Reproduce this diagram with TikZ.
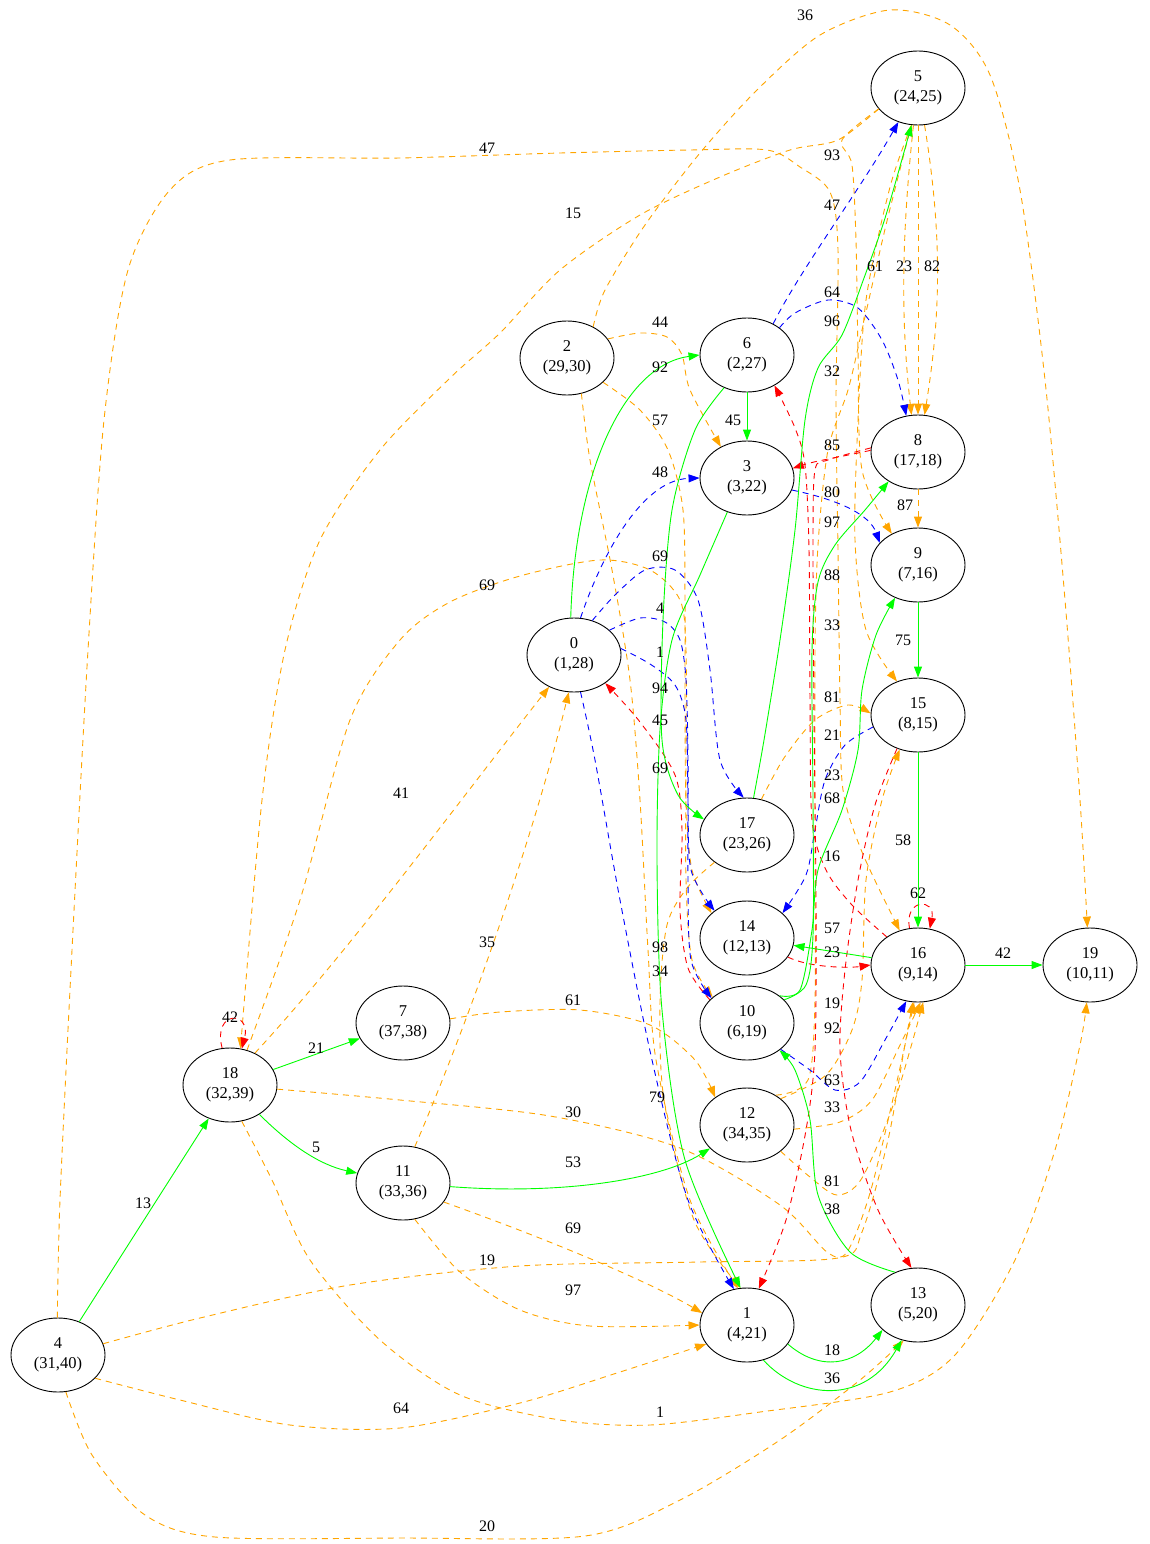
\documentclass[tikz,border=0pt]{standalone}
\usepackage{fontspec}
\setmainfont{Liberation Serif}
\usetikzlibrary{shapes.geometric,arrows.meta}
\definecolor{gvorange}{HTML}{FFA500}
\definecolor{gvgreen}{HTML}{00FF00}
\definecolor{gvblue}{HTML}{0000FF}
\definecolor{gvred}{HTML}{FF0000}
\begin{document}
\begin{tikzpicture}[x=1pt,y=-1pt,
  vertex/.style={ellipse,draw=black,fill=white,line width=0.9pt,minimum width=94pt,minimum height=74pt,
    inner sep=0pt,align=center,font=\fontsize{16.5}{20}\selectfont},
  wt/.style={font=\fontsize{16}{18}\selectfont,inner sep=0pt},
  conn/.style={line width=0.9pt,-{Triangle[length=11pt,width=8pt]}},
  tree/.style={conn,draw=gvgreen},
  fwd/.style={conn,draw=gvblue,dash pattern=on 6pt off 5pt},
  back/.style={conn,draw=gvred,dash pattern=on 6pt off 5pt},
  cross/.style={conn,draw=gvorange,dash pattern=on 6pt off 5pt}]
\useasboundingbox (0,0) rectangle (1150,1544);

% vertices: name, (discovery,finish)
\node[vertex] (n5)  at (918,88)   {5\\(24,25)};
\node[vertex] (n2)  at (567,358)  {2\\(29,30)};
\node[vertex] (n6)  at (747,355)  {6\\(2,27)};
\node[vertex] (n8)  at (918,452)  {8\\(17,18)};
\node[vertex] (n3)  at (747,478)  {3\\(3,22)};
\node[vertex] (n9)  at (918,565)  {9\\(7,16)};
\node[vertex] (n0)  at (574,655)  {0\\(1,28)};
\node[vertex] (n15) at (918,715)  {15\\(8,15)};
\node[vertex] (n17) at (747,835)  {17\\(23,26)};
\node[vertex] (n14) at (747,938)  {14\\(12,13)};
\node[vertex] (n16) at (918,965)  {16\\(9,14)};
\node[vertex] (n19) at (1090,965) {19\\(10,11)};
\node[vertex] (n10) at (747,1023) {10\\(6,19)};
\node[vertex] (n7)  at (403,1023) {7\\(37,38)};
\node[vertex] (n18) at (230,1085) {18\\(32,39)};
\node[vertex] (n12) at (747,1125) {12\\(34,35)};
\node[vertex] (n11) at (403,1183) {11\\(33,36)};
\node[vertex] (n13) at (918,1305) {13\\(5,20)};
\node[vertex] (n1)  at (747,1325) {1\\(4,21)};
\node[vertex] (n4)  at (58,1355)  {4\\(31,40)};

% cross edges
\draw[cross] plot[smooth] coordinates {(n2.50) (605,290) (645,225) (700,153) (757,90) (820,35) (890,10) (950,25) (990,75) (1020,190) (1045,380) (1065,600) (1080,800) (n19.94)};
\draw[cross] plot[smooth] coordinates {(n2.25) (640,333) (667,337) (682,355) (690,390) (n3.130)};
\draw[cross] plot[smooth] coordinates {(n2.-34) (640,410) (668,450) (683,510) (685,600) (685,700) (686,800) (692,870) (n14.145)};
\draw[cross] plot[smooth] coordinates {(n2.-68) (590,460) (612,570) (630,680) (640,800) (648,950) (656,1060) (690,1200) (n1.104)};
\draw[cross] plot[smooth] coordinates {(n17.-140) (687,888) (667,925) (660,1000) (664,1100) (694,1220) (n1.100)};
\draw[cross] plot[smooth] coordinates {(n17.68) (784,758) (815,720) (848,705) (n15.178)};
\draw[cross] plot[smooth] coordinates {(n7.5) (500,1012) (580,1010) (650,1025) (695,1060) (n12.139)};
\draw[cross] (n18.52) .. controls (350,950) and (460,800) .. (n0.-128);
\draw[cross] (n11.72) .. controls (465,1030) and (530,850) .. (n0.-98);
\draw[cross] plot[smooth] coordinates {(n18.-72) (272,1180) (310,1260) (380,1340) (460,1395) (560,1420) (650,1425) (760,1412) (890,1392) (955,1355) (1015,1260) (1055,1150) (1080,1045) (n19.-95)};
\draw[cross] plot[smooth] coordinates {(n4.-32) (180,1400) (290,1425) (400,1428) (520,1403) (620,1372) (n1.-155)};
\draw[cross] plot[smooth] coordinates {(n4.-78) (92,1455) (145,1515) (215,1537) (400,1538) (585,1536) (680,1500) (780,1440) (860,1380) (n13.-112)};
\draw[cross] plot[smooth] coordinates {(n4.14) (200,1318) (350,1285) (520,1266) (700,1262) (838,1258) (862,1232) (888,1140) (904,1050) (n16.-98)};
\draw[cross] (n11.-25) .. controls (550,1240) and (650,1282) .. (n1.165);
\draw[cross] plot[smooth] coordinates {(n11.-72) (460,1272) (520,1310) (590,1326) (n1.180)};
\draw[cross] plot[smooth] coordinates {(n18.-5) (400,1100) (550,1116) (680,1148) (780,1205) (827,1252) (847,1252) (870,1193) (895,1090) (n16.-96)};
\draw[cross] plot[smooth] coordinates {(n12.-5) (840,1122) (872,1100) (900,1045) (n16.-86)};
\draw[cross] plot[smooth] coordinates {(n12.-38) (810,1177) (837,1195) (862,1178) (895,1100) (n16.-82)};
\draw[cross] plot[smooth] coordinates {(n12.38) (826,1075) (852,1030) (862,980) (866,880) (882,800) (n15.-118)};
\draw[cross] plot[smooth] coordinates {(n12.46) (808,1080) (815,1000) (815,850) (815,650) (818,545) (828,450) (848,390) (862,330) (886,225) (n5.-100)};
\draw[cross] plot[smooth] coordinates {(n18.64) (300,900) (350,720) (400,640) (450,602) (520,576) (600,560) (650,570) (680,600) (686,650) (686,760) (686,880) (692,960) (n10.143)};
\draw[cross] plot[smooth] coordinates {(n5.-152) (838,140) (790,150) (720,177) (640,215) (560,270) (500,333) (450,378) (380,450) (320,540) (285,650) (262,800) (n18.74)};
\draw[cross] plot[smooth] coordinates {(n5.-152) (842,140) (852,165) (856,240) (858,350) (862,470) (n9.130)};
\draw[cross] plot[smooth] coordinates {(n5.-100) (890,187) (866,300) (858,420) (855,540) (866,630) (n15.122)};
\draw[cross] plot[smooth] coordinates {(n4.91) (60,1200) (72,950) (88,650) (104,420) (128,270) (170,190) (230,160) (400,158) (560,153) (690,150) (767,150) (800,167) (830,192) (838,250) (836,400) (838,550) (840,700) (843,790) (862,852) (n16.118)};
\draw[cross] (n5.-97) .. controls (900,250) and (902,330) .. (n8.100);
\draw[cross] (n5.-90) -- (n8.90);
\draw[cross] (n5.-80) .. controls (945,250) and (938,330) .. (n8.80);
\draw[cross] (n8) -- (n9);

% forward edges
\draw[fwd] (n6.50) .. controls (800,270) and (860,190) .. (n5.-120);
\draw[fwd] plot[smooth] coordinates {(n6.40) (795,313) (828,300) (858,308) (882,340) (898,380) (n8.108)};
\draw[fwd] (n0.80) .. controls (600,560) and (640,480) .. (n3.180);
\draw[fwd] plot[smooth] coordinates {(n0.62) (615,595) (645,570) (675,570) (698,600) (710,670) (720,760) (n17.95)};
\draw[fwd] plot[smooth] coordinates {(n0.35) (640,618) (665,622) (680,640) (686,680) (688,760) (688,880) (691,960) (n10.145)};
\draw[fwd] plot[smooth] coordinates {(n0.8) (650,664) (675,685) (686,720) (688,800) (691,870) (n14.140)};
\draw[fwd] plot[smooth] coordinates {(n0.-80) (595,760) (620,900) (652,1060) (688,1200) (n1.110)};
\draw[fwd] (n3.-15) .. controls (840,500) and (870,515) .. (n9.150);
\draw[fwd] plot[smooth] coordinates {(n15.195) (845,745) (825,780) (815,830) (806,875) (n14.35)};
\draw[fwd] plot[smooth] coordinates {(n10.-38) (810,1070) (835,1090) (860,1082) (885,1040) (n16.-108)};

% back edges
\draw[back] plot[smooth] coordinates {(n10.148) (688,968) (680,910) (682,830) (675,775) (640,722) (n0.-42)};
\draw[back] plot[smooth] coordinates {(n16.138) (852,905) (826,870) (812,820) (810,700) (809,550) (805,465) (795,428) (n6.-48)};
\draw[back] (n8.178) .. controls (840,457) and (815,461) .. (n3.12);
\draw[back] plot[smooth] coordinates {(n8.175) (828,460) (815,470) (813,540) (814,720) (816,900) (815,1050) (806,1130) (786,1220) (n1.72)};
\draw[back] plot[smooth] coordinates {(n15.-122) (875,805) (858,880) (845,970) (840,1050) (851,1130) (878,1210) (n13.100)};
\draw[back] (n14.-25) .. controls (810,968) and (850,968) .. (n16.180);
\draw[back] (n16.103) .. controls (904,898) and (936,898) .. (n16.72);
\draw[back] (n18.102) .. controls (212,1010) and (252,1010) .. (n18.72);

% tree edges
\draw[tree] (n4) -- (n18);
\draw[tree] (n18) -- (n7);
\draw[tree] (n18) .. controls (290,1145) and (320,1165) .. (n11);
\draw[tree] (n11) .. controls (560,1195) and (660,1180) .. (n12);
\draw[tree] (n0.95) .. controls (575,470) and (625,365) .. (n6.180);
\draw[tree] (n6) -- (n3);
\draw[tree] plot[smooth] coordinates {(n6.235) (695,430) (672,510) (663,620) (662,740) (678,795) (n17.160)};
\draw[tree] plot[smooth] coordinates {(n3.240) (700,575) (672,640) (660,730) (657,860) (662,1010) (685,1160) (n1.100)};
\draw[tree] (n1.-25) .. controls (820,1372) and (855,1365) .. (n13.215);
\draw[tree] (n1.-65) .. controls (800,1400) and (865,1405) .. (n13.245);
\draw[tree] plot[smooth] coordinates {(n13.125) (850,1252) (818,1195) (810,1120) (795,1070) (n10.-40)};
\draw[tree] plot[smooth] coordinates {(n10.40) (800,990) (812,930) (818,870) (842,810) (858,750) (862,690) (876,635) (n9.235)};
\draw[tree] plot[smooth] coordinates {(n10.32) (806,985) (813,935) (813,800) (812,650) (818,582) (835,545) (865,510) (n8.225)};
\draw[tree] (n9) -- (n15);
\draw[tree] (n15) -- (n16);
\draw[tree] (n16) -- (n19);
\draw[tree] (n16) -- (n14);
\draw[tree] plot[smooth] coordinates {(n17.80) (764,740) (780,640) (795,530) (805,420) (818,368) (842,335) (864,278) (886,215) (n5.-100)};

% edge weights
\foreach \p/\t [count=\i] in {
 (805,15)/36, (487,148)/47, (832,155)/93, (832,205)/47, (573,213)/15,
 (875,266)/61, (904,266)/23, (932,266)/82, (832,292)/64, (660,322)/44,
 (832,321)/96, (660,367)/92, (832,371)/32, (660,420)/57, (733,420)/45,
 (832,445)/85, (660,472)/48, (832,492)/80, (905,505)/87, (832,522)/97,
 (660,556)/69, (832,575)/88, (487,585)/69, (660,608)/4, (832,625)/33,
 (903,640)/75, (660,652)/1, (660,688)/94, (832,697)/81, (660,720)/45,
 (832,735)/21, (660,768)/69, (832,775)/23, (401,793)/41, (832,798)/68,
 (903,840)/58, (832,856)/16, (918,893)/62, (832,928)/57, (487,942)/35,
 (660,947)/98, (832,952)/23, (1003,953)/42, (660,971)/34, (573,1000)/61,
 (832,1003)/19, (230,1017)/42, (832,1028)/92, (316,1048)/21, (832,1080)/63,
 (657,1097)/79, (832,1107)/33, (573,1112)/30, (316,1147)/5, (573,1162)/53,
 (832,1181)/81, (143,1203)/13, (832,1209)/38, (573,1228)/69, (487,1260)/19,
 (573,1290)/97, (832,1350)/18, (832,1378)/36, (401,1408)/64, (660,1412)/1,
 (487,1526)/20}
 {\node[wt] (w\i) at \p {\t};}
\end{tikzpicture}
\end{document}
